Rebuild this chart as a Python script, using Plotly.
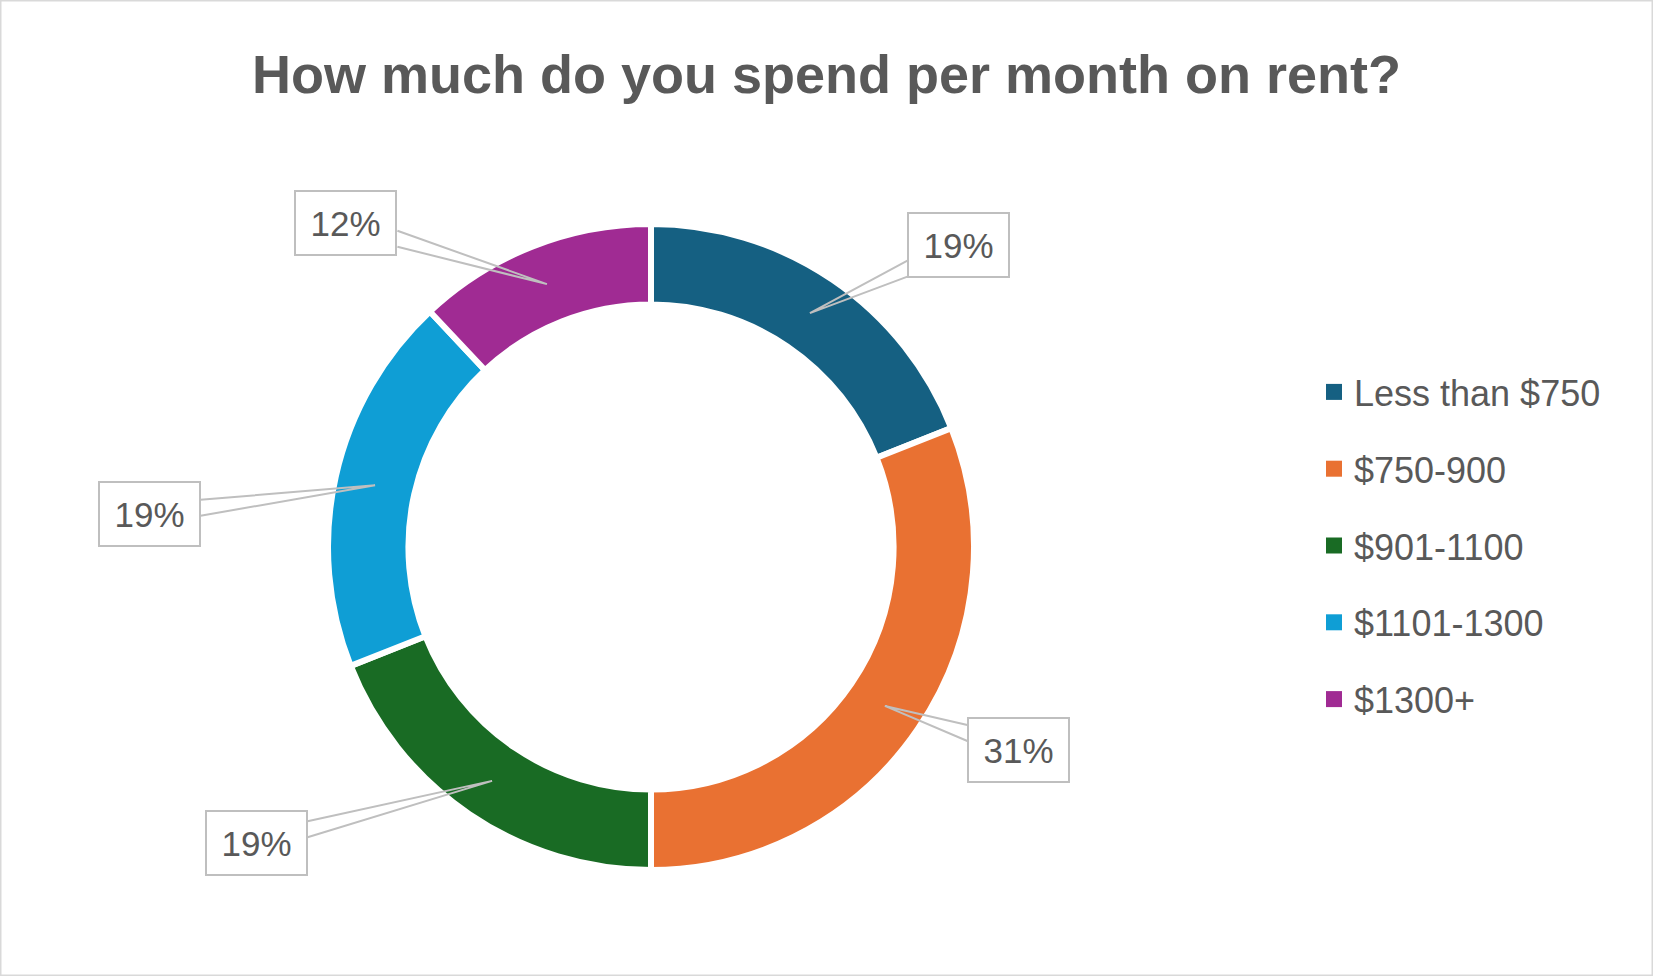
import math
import plotly.graph_objects as go

# survey answers, share of respondents in %
categories = ["Less than $750", "$750-900", "$901-1100", "$1101-1300", "$1300+"]
shares = [19, 31, 19, 19, 12]
colors = ["#156082", "#E97132", "#196B24", "#0F9ED5", "#A02B93"]

# where each label box sits relative to its slice point (px, x right / y down)
label_offsets = [(149, -68), (134, 44), (-236, 62), (-226, 29), (-201, -61)]

W, H = 1653, 976
CX, CY = 651, 547          # donut centre in px from top-left
R_OUT = 323                # outer radius incl. half the white border
HOLE = 0.751
R_MID = 282.75             # middle of the visible ring, where callouts point
BOX_W, BOX_H = 103, 66
GREY = "#595959"
CALLOUT = "#BFBFBF"


def px(x):
    return x / W


def py(y):
    return 1 - y / H


fig = go.Figure()

fig.add_trace(go.Pie(
    labels=categories,
    values=shares,
    sort=False,
    direction="clockwise",
    rotation=0,
    hole=HOLE,
    textinfo="none",
    marker=dict(colors=colors, line=dict(color="white", width=6)),
    showlegend=False,
    domain=dict(x=[px(CX - R_OUT), px(CX + R_OUT)], y=[py(CY + R_OUT), py(CY - R_OUT)]),
))

# legend entries (square swatches) via empty traces so the gaps can be set
for name, c in zip(categories, colors):
    fig.add_trace(go.Scatter(
        x=[None], y=[None], mode="markers", name=name, legendgroup=name,
        marker=dict(symbol="square", size=16, color=c),
        hoverinfo="skip",
    ))

# callout labels
total = sum(shares)
cum = 0
shapes = []
annotations = []
for v, (dx, dy) in zip(shares, label_offsets):
    mid = (cum + v / 2) / total * 2 * math.pi
    cum += v
    tx = CX + R_MID * math.sin(mid)
    ty = CY - R_MID * math.cos(mid)
    bx, by = tx + dx, ty + dy
    vx, vy = tx - bx, ty - by
    if abs(vx) / (BOX_W / 2) >= abs(vy) / (BOX_H / 2):
        ex = bx + math.copysign(BOX_W / 2, vx)
        ey = by + vy * (BOX_W / 2) / abs(vx)
        ey = min(max(ey, by - BOX_H / 2 + 9), by + BOX_H / 2 - 9)
        b1, b2 = (ex, ey - 8), (ex, ey + 8)
    else:
        ey = by + math.copysign(BOX_H / 2, vy)
        ex = bx + vx * (BOX_H / 2) / abs(vy)
        ex = min(max(ex, bx - BOX_W / 2 + 9), bx + BOX_W / 2 - 9)
        b1, b2 = (ex - 8, ey), (ex + 8, ey)
    path = "M {:.5f},{:.5f} L {:.5f},{:.5f} L {:.5f},{:.5f}".format(
        px(b1[0]), py(b1[1]), px(tx), py(ty), px(b2[0]), py(b2[1]))
    shapes.append(dict(type="path", xref="paper", yref="paper", path=path,
                       line=dict(color=CALLOUT, width=2)))
    annotations.append(dict(
        x=px(bx), y=py(by), xref="paper", yref="paper",
        text=f"{v}%", showarrow=False, xanchor="center", yanchor="middle",
        font=dict(family="Liberation Sans, Arial, sans-serif", size=35, color=GREY),
        bgcolor="white", bordercolor=CALLOUT, borderwidth=2, borderpad=1,
        width=BOX_W - 6, height=BOX_H - 6,
    ))

# thin frame round the chart
shapes.append(dict(type="rect", xref="paper", yref="paper", x0=0, y0=0, x1=1, y1=1,
                   line=dict(color="#D9D9D9", width=3)))

fig.update_layout(
    width=W,
    height=H,
    margin=dict(l=0, r=0, t=0, b=0),
    paper_bgcolor="white",
    plot_bgcolor="white",
    title=dict(
        text="How much do you spend per month on rent?",
        x=0.5, xanchor="center", y=py(74), yanchor="middle",
        font=dict(family="Liberation Sans, Arial, sans-serif", size=54,
                  weight="bold", color=GREY),
    ),
    xaxis=dict(visible=False),
    yaxis=dict(visible=False),
    legend=dict(
        x=px(1314), y=py(362), xanchor="left", yanchor="top",
        font=dict(family="Liberation Sans, Arial, sans-serif", size=36, color=GREY),
        tracegroupgap=27,
        bgcolor="rgba(0,0,0,0)",
    ),
    shapes=shapes,
    annotations=annotations,
)

fig.write_html("out.html", config={"displayModeBar": False},
               post_script="document.body.style.margin='0';")
